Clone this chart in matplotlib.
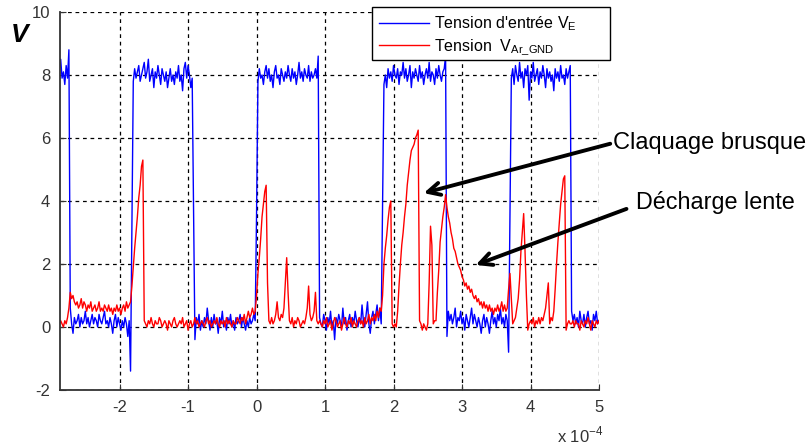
import numpy as np
import matplotlib.pyplot as plt
from matplotlib.patches import Rectangle

plt.rcParams['font.family'] = ['Liberation Sans', 'DejaVu Sans']
plt.rcParams['axes.unicode_minus'] = False

# Sampling grid (units of 1e-4 s)
t_start = -2.88
t_step = 0.02

# Input voltage V_E, segment by segment (high / low levels)
ve_hi_a = [8.2, 8.5, 7.9, 8.1, 7.7, 8.3, 7.9, 8.8]
ve_lo_a = [0.6, 0.1, -0.2, 0.3, 0.1, 0.2, 0.4, 0.0, 0.3, 0.1,
           0.2, 0.5, 0.1, 0.3, 0.0, 0.2, 0.4, 0.1, 0.3, 0.2,
           0.0, 0.4, 0.2, 0.1, 0.3, 0.5, 0.1, 0.2, 0.0, 0.3,
           0.1, -0.2, 0.2, 0.4, 0.0, 0.3, 0.1, -0.1, 0.2, 0.0,
           0.3, 0.1, -0.3, 0.2, -1.4]
ve_hi_b = [3.1, 7.8, 8.2, 7.9, 8.1, 8.3, 7.8, 8.0, 8.2, 8.4,
           7.9, 8.1, 8.5, 7.8, 8.0, 8.2, 7.6, 8.1, 7.9, 8.3,
           8.0, 7.7, 8.2, 8.0, 7.8, 8.1, 7.6, 7.9, 8.2, 7.8,
           8.0, 7.7, 8.1, 7.9, 8.3, 7.8, 8.0, 7.5, 8.2, 8.4,
           7.9, 8.3, 8.0, 7.6, 7.9]
ve_lo_b = [3.9, -0.4, 0.3, 0.1, 0.4, -0.1, 0.2, 0.0, 0.3, 0.1,
           0.6, 0.2, -0.1, 0.3, 0.0, 0.4, 0.1, 0.2, -0.2, 0.3,
           0.1, 0.5, 0.0, 0.2, -0.1, 0.3, 0.1, 0.4, 0.0, 0.2,
           -0.1, 0.3, 0.1, 0.2, 0.4, 0.0, 0.3, 0.1, -0.1, 0.2,
           0.0, 0.3, 0.1, 0.2, 0.4, 0.2]
ve_hi_c = [3.6, 7.8, 8.2, 7.9, 8.0, 7.7, 8.1, 8.3, 7.9, 8.2,
           7.8, 8.0, 7.6, 8.1, 8.3, 7.9, 8.0, 7.7, 8.2, 8.0,
           7.8, 8.1, 7.9, 8.3, 8.0, 7.8, 8.2, 7.9, 8.1, 7.7,
           8.0, 8.4, 7.9, 8.1, 7.8, 8.2, 8.0, 7.9, 8.3, 7.8,
           8.1, 7.9, 8.0, 8.2, 7.9, 8.6]
ve_lo_c = [0.3, 0.1, 0.0, 0.4, 0.2, -0.1, 0.3, 0.1, 0.5, 0.0,
           0.2, -0.4, 0.3, 0.1, 0.4, 0.2, 0.0, 0.6, 0.1, 0.3,
           -0.1, 0.2, 0.4, 0.0, 0.3, 0.1, 0.5, 0.2, 0.0, 0.3,
           0.1, 0.7, 0.2, 0.0, 0.4, 0.8, 0.1, -0.2, 0.3, 0.5,
           0.1, 0.4, 0.7, 0.2, 0.6, 0.1]
ve_hi_d = [3.9, 7.7, 8.0, 7.6, 8.2, 7.9, 8.1, 7.8, 8.3, 8.0,
           7.9, 8.2, 7.7, 8.1, 8.0, 8.4, 7.9, 8.2, 7.8, 8.0,
           8.3, 7.6, 8.1, 7.9, 8.2, 8.0, 7.8, 8.3, 7.9, 8.1,
           7.7, 8.0, 8.2, 7.9, 8.4, 7.8, 8.1, 8.0, 7.7, 8.2,
           7.9, 8.3, 8.0, 7.8, 8.1, 8.2, 8.6]
ve_lo_d = [-0.3, 0.5, 0.2, 0.4, 0.1, 0.3, 0.6, 0.0, 0.3, 0.2,
           0.5, 0.1, 0.3, -0.1, 0.4, 0.2, 0.0, 0.3, 0.6, 0.1,
           0.4, 0.2, 0.0, 0.3, 0.1, -0.2, 0.2, 0.4, 0.0, 0.3,
           0.1, -0.2, 0.2, 0.5, 0.1, 0.3, 0.0, 0.4, 0.2, 0.6,
           0.1, 0.3, 0.0, 0.4, 0.2, -0.8]
ve_hi_e = [3.6, 7.9, 8.2, 7.7, 8.3, 8.0, 7.8, 8.4, 7.9, 8.1,
           7.6, 8.2, 8.0, 8.3, 7.2, 8.1, 7.9, 8.4, 7.8, 8.0,
           8.2, 7.7, 8.1, 7.9, 8.3, 8.0, 7.6, 8.2, 7.9, 8.1,
           7.8, 8.0, 7.5, 8.2, 7.9, 8.1, 7.8, 8.3, 7.9, 8.0,
           7.7, 8.2, 7.9, 8.1, 8.3]
ve_lo_e = [0.5, 0.2, 0.4, 0.1, 0.3, 0.0, 0.5, 0.2, 0.1, 0.4,
           0.0, 0.3, 0.5, 0.1, 0.2, -0.1, 0.4, 0.2, 0.5, 0.1, 0.2]

# Voltage V_Ar_GND, segment by segment
var_a = [0.1, 0.2, 0.1, 0.0, 0.2, 0.1, 0.3]
var_b = [0.6, 1.1, 0.9, 1.0, 0.8, 0.7, 0.8, 0.6, 0.7, 0.9,
         0.6, 0.8, 0.7, 0.5, 0.7, 0.6, 0.8, 0.5, 0.6, 0.7,
         0.5, 0.6, 0.8, 0.5, 0.6, 0.5, 0.7, 0.6, 0.5, 0.7,
         0.5, 0.6, 0.4, 0.6, 0.5, 0.7, 0.5, 0.6, 0.4, 0.6,
         0.7, 0.5, 0.8, 0.6, 0.7]
var_c = [0.8, 1.3, 1.9, 2.5, 3.0, 3.5, 4.1, 4.5, 5.1, 5.3]
var_d = [0.2, 0.1, 0.0, 0.2, 0.1, 0.3, 0.1, 0.0, 0.2, 0.1,
         0.1, 0.3, 0.2, 0.0, 0.1, 0.2, 0.1, -0.1, 0.2, 0.1,
         0.0, 0.2, 0.3, 0.1, 0.0, 0.1, 0.2, 0.1, 0.3, 0.0,
         0.1, 0.2, -0.1, 0.1, 0.2, 0.0, 0.1, 0.3, 0.1, 0.2,
         0.0, 0.1, 0.2, 0.1, 0.0, 0.2, 0.3, 0.1, 0.2, 0.0,
         0.1, 0.2, 0.1, 0.3, 0.1, 0.0, 0.2, 0.1, 0.2, 0.0,
         0.3, 0.1, 0.2, 0.1, 0.0, 0.2, 0.1]
var_e = [0.1, 0.3, 0.2, 0.1, 0.3, 0.2, 0.4, 0.1, 0.3, 0.5, 0.3, 0.4, 0.6, 0.4, 0.5]
var_f = [1.0, 1.7, 2.2, 2.8, 3.5, 3.9, 4.3, 4.5, 1.4]
var_g = [0.2, 0.1, 0.3, 0.1, 0.2, 0.4, 0.8, 0.3, 0.2, 0.4,
         0.3, 0.6, 1.4, 2.2, 1.1, 0.2, 0.1, 0.3, 0.0, 0.2,
         0.1, 0.3, 0.2, 0.0, 0.1, 0.2, 0.1, 0.3, 0.6, 1.3,
         0.4, 0.2, 0.3, 0.5, 1.1, 0.2, 0.1]
var_h = [0.2, 0.1, 0.0, 0.2, 0.1, 0.3, 0.0, 0.1, 0.2, -0.1,
         0.1, 0.3, 0.2, 0.0, 0.1, 0.2, -0.1, 0.1, 0.3, 0.1,
         0.0, 0.2, 0.1, 0.3, 0.0, 0.2, 0.1, 0.0, 0.2, 0.3,
         0.1, 0.2, 0.0, 0.3, 0.1, 0.2, 0.4, 0.1, 0.3, 0.2,
         0.4, 0.2, 0.5, 0.3, 0.6, 0.5]
var_i = [1.0, 2.0, 2.5, 2.9, 3.4, 3.8, 4.0, 0.1, 0.0, 0.1,
         0.0, 0.5, 1.3, 2.0, 2.6, 3.0, 3.5, 3.9, 4.5, 4.9,
         5.3, 5.6, 5.7, 5.8, 6.0, 6.1, 6.25]
var_j = [0.2, 0.1, -0.1, 0.1, 0.0, -0.1, 0.1]
var_k = [1.4, 3.2, 2.6, 0.1, 0.2, 0.2, 1.1, 1.8, 2.7, 3.1, 3.5, 3.8, 4.2]
var_l = [3.8, 3.5, 3.3, 3.0, 2.8, 2.5, 2.4, 2.2, 2.0, 1.9,
         1.8, 1.6, 1.5, 1.3, 1.4, 1.2, 1.3, 1.1, 1.2, 1.0,
         0.9, 1.0, 0.8, 0.9, 0.7, 0.8, 0.6, 0.8, 0.6, 0.7,
         0.5, 0.7, 0.5, 0.6, 0.4, 0.6, 0.5, 0.7, 0.5, 0.6,
         0.8, 0.5, 0.7, 0.5, 0.6, 1.2]
var_m = [1.7, 0.9, 0.1, 0.2, 0.3, 0.6, 0.9, 1.5, 2.4, 3.0,
         3.6, 2.4, 1.0, -0.1, 0.1, 0.2, 0.1, 0.3, 0.0, 0.2,
         0.1, 0.3, 0.1, 0.3, 0.2, 0.4, 0.6, 1.0, 1.4, 0.1,
         0.3, 0.2, 0.5, 1.2, 2.0, 2.7, 3.3, 3.9, 4.3, 4.7,
         4.8, -0.1]
var_n = [0.1, 0.2, 0.1, 0.1, 0.2, 0.0, 0.2, 0.1, 0.1, -0.1,
         0.2, 0.1, 0.0, 0.2, 0.1, 0.3, 0.1, -0.1, 0.2, 0.1,
         0.0, 0.2, 0.1, 0.2]

ve = (ve_hi_a + ve_lo_a + ve_hi_b + ve_lo_b + ve_hi_c + ve_lo_c
      + ve_hi_d + ve_lo_d + ve_hi_e + ve_lo_e)
var = (var_a + var_b + var_c + var_d + var_e + var_f + var_g + var_h
       + var_i + var_j + var_k + var_l + var_m + var_n)

t_ve = t_start + t_step * np.arange(len(ve))
t_var = t_start + t_step * np.arange(len(var))

fig = plt.figure(figsize=(8.11, 4.48), dpi=100)
ax = fig.add_axes([60 / 811, 1 - 390 / 448, 539 / 811, 378 / 448])

ax.plot(t_ve, ve, color='#0000ff', lw=1.0, label="Tension d'entrée V$_\\mathregular{E}$")
ax.plot(t_var, var, color='#ff0000', lw=1.0, label='Tension  V$_\\mathregular{Ar\\_GND}$')

ax.set_xlim(-2.87, 5)
ax.set_ylim(-2, 10)
ax.set_xticks(range(-2, 6))
ax.set_yticks(range(-2, 11, 2))
ax.grid(True, color='black', linestyle=(0, (3, 3)), linewidth=0.9)
ax.tick_params(direction='in', length=4, labelsize=12, colors='#333333', pad=7)
for side in ['top', 'right']:
    ax.spines[side].set_visible(False)
for side in ['left', 'bottom']:
    ax.spines[side].set_color('#333333')
    ax.spines[side].set_linewidth(1.3)

fig.text(20 / 811, 1 - 35 / 448, 'V', fontsize=19, fontweight='bold', fontstyle='italic',
         ha='center', va='center')
fig.text(557 / 811, 1 - 435 / 448, 'x 10$^{\\mathregular{-4}}$', fontsize=12,
         color='#333333', ha='left', va='center')

# MATLAB-style legend box (wider than its text)
fig.add_artist(Rectangle((372 / 811, 1 - 60 / 448), 238 / 811, 53 / 448,
                         transform=fig.transFigure, facecolor='white',
                         edgecolor='black', linewidth=1.0, zorder=4))
fig.legend(loc='upper left', bbox_to_anchor=(372 / 811, 1 - 7 / 448), borderaxespad=0,
           frameon=False, fontsize=11.5, handlelength=3.1, handletextpad=0.35,
           borderpad=0.45, labelspacing=0.3)

arrow = dict(arrowstyle='->', lw=2.8, color='black', mutation_scale=22, shrinkA=0, shrinkB=0)
ax.annotate('Claquage brusque', xy=(2.44, 4.25), xytext=(613 / 811, 1 - 143 / 448),
            textcoords='figure fraction', fontsize=17, ha='left', va='center',
            arrowprops=dict(arrow, relpos=(0, 0.5)), annotation_clip=False)
ax.annotate('Décharge lente', xy=(3.2, 1.97), xytext=(636 / 811, 1 - 202 / 448),
            textcoords='figure fraction', fontsize=16.8, ha='left', va='center',
            arrowprops=dict(arrow, relpos=(-0.06, 0.2)), annotation_clip=False)

fig.savefig('out.png', dpi=100)
